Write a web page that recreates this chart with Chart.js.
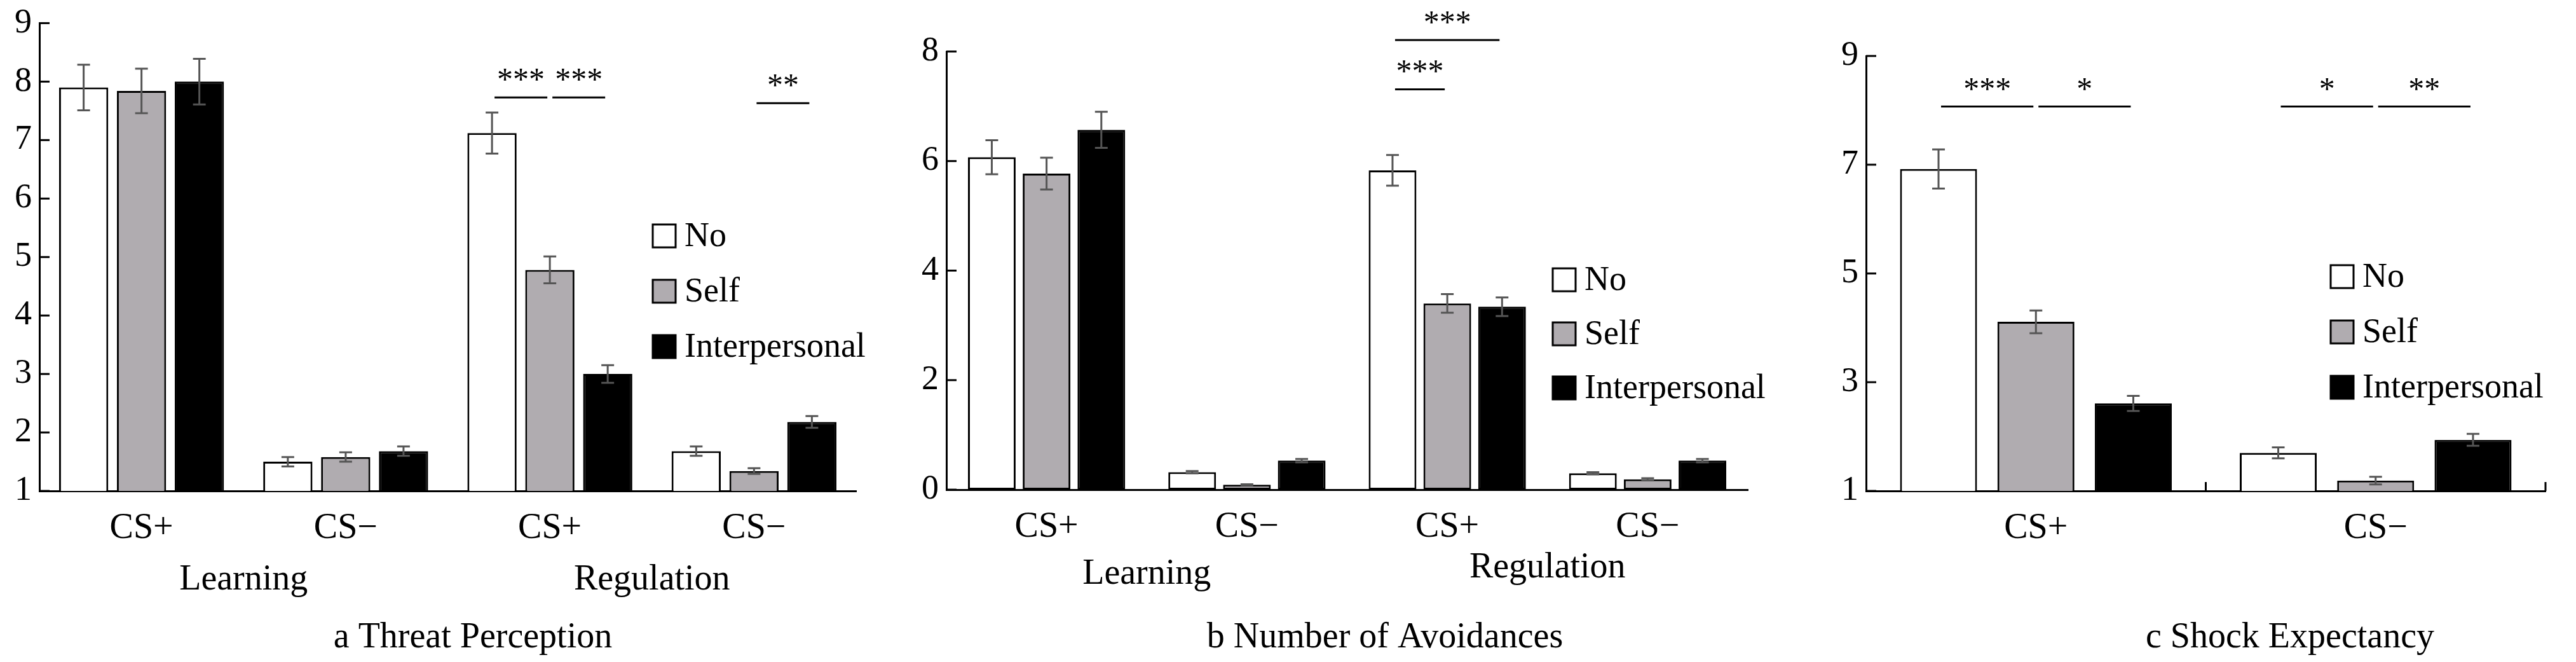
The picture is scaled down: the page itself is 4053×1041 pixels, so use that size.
<!DOCTYPE html>
<html>
<head>
<meta charset="utf-8">
<script src="https://cdn.jsdelivr.net/npm/chart.js@4"></script>
<style>
  body { margin: 0; background: #fff; width: 4053px; height: 1041px; position: relative; overflow: hidden; }
  canvas { position: absolute; top: 0; }
</style>
</head>
<body>
<canvas id="chartA" width="1390" height="1041" style="left:0px"></canvas>
<canvas id="chartB" width="1390" height="1041" style="left:1400px"></canvas>
<canvas id="chartC" width="1253" height="1041" style="left:2800px"></canvas>
<script>
const seriesNames = ['No', 'Self', 'Interpersonal'];
const seriesFill = ['#ffffff', '#b0acb0', '#000000'];

// a Threat Perception
const catsA = ['CS+', 'CS\u2212', 'CS+', 'CS\u2212'];
const noA = [7.9, 1.5, 7.12, 1.68];
const selfA = [7.84, 1.58, 4.78, 1.34];
const interA = [8.0, 1.68, 3.0, 2.18];
const noErrA = [0.39, 0.08, 0.35, 0.08];
const selfErrA = [0.38, 0.08, 0.23, 0.05];
const interErrA = [0.39, 0.08, 0.15, 0.1];
const ticksA = [1, 2, 3, 4, 5, 6, 7, 8, 9];

// b Number of Avoidances
const catsB = ['CS+', 'CS\u2212', 'CS+', 'CS\u2212'];
const noB = [6.07, 0.32, 5.83, 0.3];
const selfB = [5.77, 0.09, 3.4, 0.19];
const interB = [6.57, 0.53, 3.34, 0.53];
const noErrB = [0.31, 0.02, 0.28, 0.02];
const selfErrB = [0.29, 0.01, 0.17, 0.02];
const interErrB = [0.33, 0.03, 0.17, 0.03];
const ticksB = [0, 2, 4, 6, 8];

// c Shock Expectancy
const catsC = ['CS+', 'CS\u2212'];
const noC = [6.92, 1.70];
const selfC = [4.11, 1.19];
const interC = [2.61, 1.94];
const noErrC = [0.36, 0.1];
const selfErrC = [0.21, 0.07];
const interErrC = [0.14, 0.11];
const ticksC = [1, 3, 5, 7, 9];

// significance marks: [category, fromSeries, toSeries, yValue, label]
const sigA = [[2, 0, 1, 7.73, '***'], [2, 1, 2, 7.73, '***'], [3, 1, 2, 7.63, '**']];
const sigB = [[2, 0, 1, 7.31, '***'], [2, 0, 2, 8.21, '***']];
const sigC = [[0, 0, 1, 8.07, '***'], [0, 1, 2, 8.07, '*'], [1, 0, 1, 8.07, '*'], [1, 1, 2, 8.07, '**']];

const serif = '"Liberation Serif", "DejaVu Serif", serif';

const extras = {
  id: 'extras',
  afterDatasetsDraw(chart, args, o) {
    const ctx = chart.ctx, ys = chart.scales.y, xs = chart.scales.x, area = chart.chartArea;
    ctx.save();
    // error bars
    ctx.strokeStyle = '#555';
    ctx.lineWidth = 3;
    o.errs.forEach((errs, i) => {
      const meta = chart.getDatasetMeta(i);
      meta.data.forEach((el, j) => {
        const v = chart.data.datasets[i].data[j], e = errs[j];
        const y1 = ys.getPixelForValue(v + e), y2 = ys.getPixelForValue(v - e);
        ctx.beginPath();
        ctx.moveTo(el.x, y1); ctx.lineTo(el.x, y2);
        ctx.moveTo(el.x - 10, y1); ctx.lineTo(el.x + 10, y1);
        ctx.moveTo(el.x - 10, y2); ctx.lineTo(el.x + 10, y2);
        ctx.stroke();
      });
    });
    // y ticks inward
    ctx.strokeStyle = '#000';
    ctx.lineWidth = 3;
    ys.ticks.forEach(t => {
      const y = ys.getPixelForValue(t.value);
      ctx.beginPath(); ctx.moveTo(area.left, y); ctx.lineTo(area.left + 16, y); ctx.stroke();
    });
    if (o.xTicks) {
      [xs.getPixelForValue(0.5), area.right].forEach(x => {
        ctx.beginPath(); ctx.moveTo(x, area.bottom); ctx.lineTo(x, area.bottom - 14); ctx.stroke();
      });
    }
    // significance
    ctx.fillStyle = '#000';
    ctx.font = '50px ' + serif;
    ctx.textAlign = 'center';
    ctx.textBaseline = 'alphabetic';
    o.sigs.forEach(s => {
      const xa = chart.getDatasetMeta(s[1]).data[s[0]].x;
      const xb = chart.getDatasetMeta(s[2]).data[s[0]].x;
      const y = ys.getPixelForValue(s[3]);
      ctx.beginPath(); ctx.moveTo(xa + 4, y); ctx.lineTo(xb - 4, y); ctx.stroke();
      ctx.fillText(s[4], (xa + xb) / 2, y - 12);
    });
    // legend
    ctx.font = '54px ' + serif;
    ctx.textAlign = 'left';
    ctx.textBaseline = 'middle';
    seriesNames.forEach((n, i) => {
      const y = o.legend[1] + i * o.legend[2];
      ctx.fillStyle = seriesFill[i];
      ctx.fillRect(o.legend[0], y - 18, 36, 36);
      ctx.strokeStyle = '#000';
      ctx.lineWidth = 3;
      ctx.strokeRect(o.legend[0], y - 18, 36, 36);
      ctx.fillStyle = '#000';
      ctx.fillText(n, o.legend[0] + 50, y + 2);
    });
    // group labels and title
    ctx.textAlign = 'center';
    ctx.font = '56px ' + serif;
    o.groups.forEach(g => {
      const x = (xs.getPixelForValue(g[0]) + xs.getPixelForValue(g[1])) / 2;
      ctx.fillText(g[2], x, g[3]);
    });
    ctx.fillText(o.title[0], o.title[1], 1003);
    ctx.restore();
  }
};

function makeChart(id, cats, vals, errs, ticks, opt) {
  const ds = vals.map((d, i) => ({
    label: seriesNames[i],
    data: d,
    backgroundColor: seriesFill[i],
    borderColor: '#000',
    borderWidth: 3,
    borderSkipped: false,
    barPercentage: opt.bp,
    categoryPercentage: opt.cp
  }));
  new Chart(document.getElementById(id), {
    type: 'bar',
    data: { labels: cats, datasets: ds },
    plugins: [extras],
    options: {
      responsive: false,
      animation: false,
      layout: { padding: { top: opt.top, right: opt.right, left: 0, bottom: 0 } },
      plugins: {
        legend: { display: false },
        tooltip: { enabled: false },
        extras: { errs: errs, sigs: opt.sigs, legend: opt.legend, groups: opt.groups, title: opt.title, xTicks: opt.xTicks }
      },
      scales: {
        x: {
          grid: { display: false },
          border: { color: '#000', width: 3 },
          ticks: { color: '#000', font: { family: serif, size: 56 }, padding: 18 },
          afterFit: s => { s.height = 1041 - opt.bottom; }
        },
        y: {
          min: ticks[0], max: ticks[ticks.length - 1],
          afterBuildTicks: s => { s.ticks = ticks.map(v => ({ value: v })); },
          grid: { display: false },
          border: { color: '#000', width: 3 },
          ticks: { color: '#000', font: { family: serif, size: 54 }, padding: 4 },
          afterFit: s => { s.width = opt.left; }
        }
      }
    }
  });
}

makeChart('chartA', catsA, [noA, selfA, interA], [noErrA, selfErrA, interErrA], ticksA, {
  bp: 0.85, cp: 0.85, top: 25, right: 43, left: 62, bottom: 772, sigs: sigA,
  legend: [1027, 371, 87], groups: [[0, 1, 'Learning', 912], [2, 3, 'Regulation', 912]],
  title: ['a Threat Perception', 744]
});
makeChart('chartB', catsB, [noB, selfB, interB], [noErrB, selfErrB, interErrB], ticksB, {
  bp: 0.87, cp: 0.82, top: 81, right: 40, left: 89, bottom: 770, sigs: sigB,
  legend: [1043, 440, 85], groups: [[0, 1, 'Learning', 903], [2, 3, 'Regulation', 893]],
  title: ['b Number of Avoidances', 779]
});
makeChart('chartC', catsC, [noC, selfC, interC], [noErrC, selfErrC, interErrC], ticksC, {
  bp: 0.79, cp: 0.86, top: 88, right: 48, left: 136, bottom: 772, sigs: sigC, xTicks: true,
  legend: [867, 435, 87], groups: [],
  title: ['c Shock Expectancy', 803]
});
</script>
</body>
</html>
